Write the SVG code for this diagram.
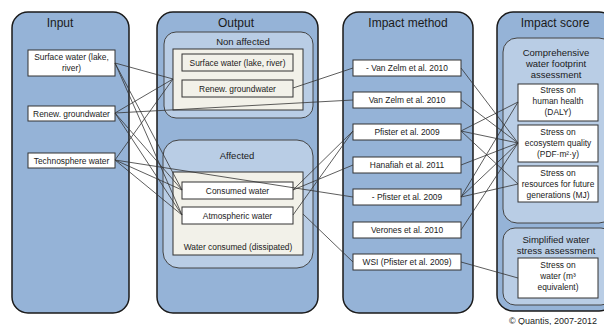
<svg xmlns="http://www.w3.org/2000/svg" width="604" height="325" viewBox="0 0 604 325">
<style>
.col{fill:#95b3d7;stroke:#1a1a1a;stroke-width:1.5}
.sub{fill:#b9cde5;stroke:#444;stroke-width:1}
.beige{fill:#f2f1e9;stroke:#333;stroke-width:1}
.box{fill:#fff;stroke:#333;stroke-width:1}
.bbox{fill:#f2f1e9;stroke:#333;stroke-width:1}
text{font-family:"Liberation Sans",Arial,sans-serif;fill:#1a1a1a;text-anchor:middle}
.t{font-size:12px}
.s{font-size:9.5px}
.b{font-size:8.4px}
.c line{stroke:#333;stroke-width:0.8}
</style>
<rect width="604" height="325" fill="#fff"/>

<g id="input">
<rect class="col" x="12" y="12" width="117" height="301" rx="16"/>
<text class="t" x="60" y="27">Input</text>
</g>
<g id="in-surface"><rect class="box" x="28" y="50" width="87" height="26"/><text class="b" x="71.5" y="60">Surface water (lake,</text><text class="b" x="71.5" y="71">river)</text></g>
<g id="in-renew"><rect class="box" x="28" y="106" width="87" height="15"/><text class="b" x="71.5" y="116.5">Renew. groundwater</text></g>
<g id="in-techno"><rect class="box" x="28" y="153" width="87" height="15"/><text class="b" x="71.5" y="163.5">Technosphere water</text></g>

<g id="output">
<rect class="col" x="157" y="12" width="161" height="301" rx="16"/>
<text class="t" x="236" y="27">Output</text>
</g>
<g id="nonaffected">
<rect class="sub" x="164" y="32" width="149" height="86" rx="12"/>
<text class="s" x="243" y="45">Non affected</text>
<rect class="beige" x="173" y="49" width="130" height="61"/>
</g>
<g id="out-surface"><rect class="bbox" x="182" y="54" width="111" height="17"/><text class="b" x="237.5" y="65.5">Surface water (lake, river)</text></g>
<g id="out-renew"><rect class="bbox" x="182" y="80" width="111" height="17"/><text class="b" x="237.5" y="91.5">Renew. groundwater</text></g>
<g id="affected">
<rect class="sub" x="163" y="140" width="150" height="128" rx="16"/>
<text class="s" x="237" y="159">Affected</text>
<rect class="beige" x="173" y="172" width="130" height="83"/>
<text class="b" x="238" y="250">Water consumed (dissipated)</text>
</g>
<g id="out-consumed"><rect class="box" x="182" y="182" width="111" height="17"/><text class="b" x="237.5" y="193.5">Consumed water</text></g>
<g id="out-atmo"><rect class="box" x="182" y="207" width="111" height="17"/><text class="b" x="237.5" y="218.5">Atmospheric water</text></g>

<g id="method">
<rect class="col" x="343" y="12" width="130" height="301" rx="16"/>
<text class="t" x="408" y="27">Impact method</text>
</g>
<g id="m1"><rect class="box" x="353" y="60" width="108" height="16"/><text class="b" x="407" y="71">- Van Zelm et al. 2010</text></g>
<g id="m2"><rect class="box" x="353" y="92" width="108" height="16"/><text class="b" x="407" y="103">Van Zelm et al. 2010</text></g>
<g id="m3"><rect class="box" x="353" y="124" width="108" height="16"/><text class="b" x="407" y="135">Pfister et al. 2009</text></g>
<g id="m4"><rect class="box" x="353" y="157" width="108" height="16"/><text class="b" x="407" y="168">Hanafiah et al. 2011</text></g>
<g id="m5"><rect class="box" x="353" y="189" width="108" height="16"/><text class="b" x="407" y="200">- Pfister et al. 2009</text></g>
<g id="m6"><rect class="box" x="353" y="222" width="108" height="16"/><text class="b" x="407" y="233">Verones et al. 2010</text></g>
<g id="m7"><rect class="box" x="353" y="254" width="108" height="16"/><text class="b" x="407" y="265">WSI (Pfister et al. 2009)</text></g>

<g id="score">
<rect class="col" x="497" y="12" width="118" height="299" rx="16"/>
<text class="t" x="555" y="27">Impact score</text>
</g>
<g id="comprehensive">
<rect class="sub" x="503" y="38" width="110" height="185" rx="14"/>
<text class="s" x="556" y="56">Comprehensive</text>
<text class="s" x="556" y="67">water footprint</text>
<text class="s" x="556" y="78">assessment</text>
</g>
<g id="s-hh"><rect class="box" x="518" y="84" width="80" height="37"/><text class="b" x="558" y="93">Stress on</text><text class="b" x="558" y="104">human health</text><text class="b" x="558" y="115">(DALY)</text></g>
<g id="s-eco"><rect class="box" x="518" y="125" width="80" height="37"/><text class="b" x="558" y="135">Stress on</text><text class="b" x="558" y="146">ecosystem quality</text><text class="b" x="558" y="157">(PDF·m²·y)</text></g>
<g id="s-res"><rect class="box" x="518" y="166" width="80" height="36"/><text class="b" x="558" y="176">Stress on</text><text class="b" x="558" y="187">resources for future</text><text class="b" x="558" y="198">generations (MJ)</text></g>
<g id="simplified">
<rect class="sub" x="503" y="228" width="110" height="77" rx="12"/>
<text class="s" x="556" y="243">Simplified water</text>
<text class="s" x="556" y="254">stress assessment</text>
</g>
<g id="s-water"><rect class="box" x="518" y="258" width="80" height="40"/><text class="b" x="558" y="268">Stress on</text><text class="b" x="558" y="279">water (m³</text><text class="b" x="558" y="290">equivalent)</text></g>

<g id="connectors" class="c">
<line x1="115" y1="63" x2="173" y2="79"/>
<line x1="115" y1="113" x2="173" y2="79"/>
<line x1="115" y1="160" x2="173" y2="79"/>
<line x1="115" y1="63" x2="182" y2="190"/>
<line x1="115" y1="63" x2="182" y2="215"/>
<line x1="115" y1="113" x2="182" y2="190"/>
<line x1="115" y1="113" x2="182" y2="215"/>
<line x1="115" y1="160" x2="182" y2="190"/>
<line x1="115" y1="160" x2="182" y2="215"/>
<line x1="115" y1="113" x2="353" y2="100"/>
<line x1="115" y1="160" x2="353" y2="197"/>
<line x1="293" y1="88" x2="353" y2="68"/>
<line x1="293" y1="190" x2="353" y2="131"/>
<line x1="293" y1="190" x2="353" y2="165"/>
<line x1="293" y1="215" x2="353" y2="131"/>
<line x1="303" y1="214" x2="353" y2="262"/>
<line x1="461" y1="68" x2="518" y2="143"/>
<line x1="461" y1="100" x2="518" y2="143"/>
<line x1="461" y1="131" x2="518" y2="102"/>
<line x1="461" y1="131" x2="518" y2="143"/>
<line x1="461" y1="131" x2="518" y2="184"/>
<line x1="461" y1="165" x2="518" y2="143"/>
<line x1="461" y1="197" x2="518" y2="102"/>
<line x1="461" y1="197" x2="518" y2="143"/>
<line x1="461" y1="197" x2="518" y2="184"/>
<line x1="461" y1="230" x2="518" y2="143"/>
<line x1="461" y1="262" x2="518" y2="278"/>
</g>

<text x="553" y="324" style="font-size:9px">© Quantis, 2007-2012</text>
</svg>
